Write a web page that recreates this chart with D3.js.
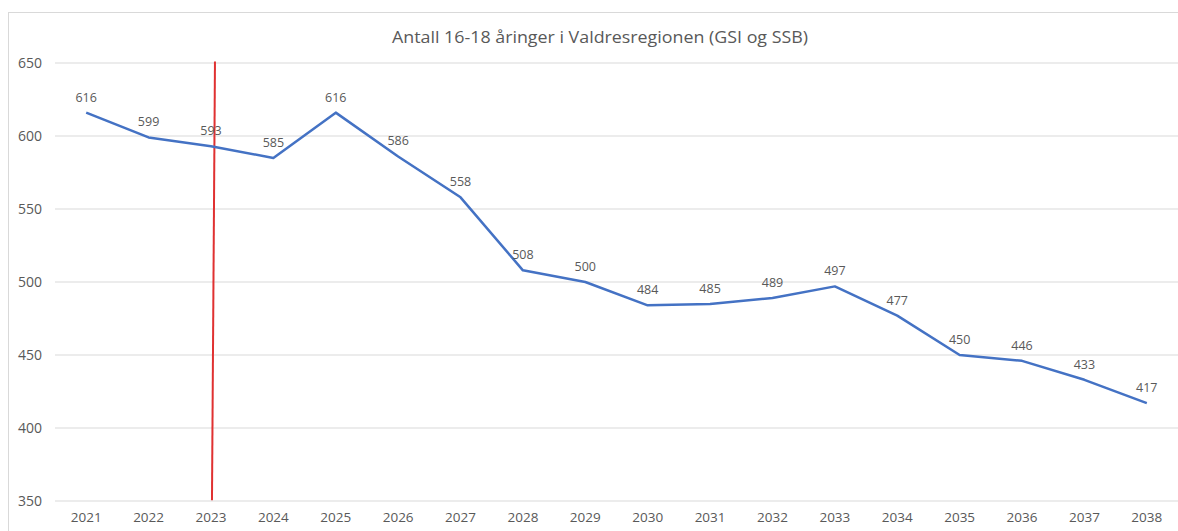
<!DOCTYPE html>
<html>
<head>
<meta charset="utf-8">
<script src="https://cdn.jsdelivr.net/npm/d3@7"></script>
<style>
  body { margin: 0; background: #fff; }
  text { font-family: "Open Sans", "Liberation Sans", sans-serif; fill: #595959; }
</style>
</head>
<body>
<svg id="chart" width="1178" height="531"></svg>
<script>
const years = ['2021','2022','2023','2024','2025','2026','2027','2028','2029','2030','2031','2032','2033','2034','2035','2036','2037','2038']
const counts = [616,599,593,585,616,586,558,508,500,484,485,489,497,477,450,446,433,417]
const yTicks = [350,400,450,500,550,600,650]
const markerYear = '2023'
const titleText = 'Antall 16-18 åringer i Valdresregionen (GSI og SSB)'

const svg = d3.select('#chart')
const W = 1178, H = 531
const margin = {left: 55, right: 0, top: 63, bottom: 30}

// frame
svg.append('rect').attr('x', 8.5).attr('y', 12.5).attr('width', W).attr('height', H)
  .attr('fill', 'none').attr('stroke', '#d9d9d9')

const x = d3.scaleBand().domain(years).range([margin.left, W - margin.right])
const y = d3.scaleLinear().domain([350, 650]).range([H - margin.bottom, margin.top])

// gridlines
svg.append('g').selectAll('line').data(yTicks).enter().append('line')
  .attr('x1', margin.left).attr('x2', W)
  .attr('y1', d => y(d)).attr('y2', d => y(d))
  .attr('stroke', '#e6e6e6').attr('stroke-width', 1.3)

// y axis labels
const yAxis = svg.append('g').attr('transform', `translate(${margin.left - 13},0)`)
  .call(d3.axisLeft(y).tickValues(yTicks).tickSize(0).tickPadding(0))
yAxis.select('.domain').remove()
yAxis.selectAll('text').style('font-size', '14px').style('fill', '#595959')
  .style('font-family', '"Open Sans", sans-serif')

// x axis labels
const xAxis = svg.append('g').attr('transform', `translate(0,${H - 19})`)
  .call(d3.axisBottom(x).tickSize(0).tickPadding(0))
xAxis.select('.domain').remove()
xAxis.selectAll('text').style('font-size', '13.5px').style('fill', '#595959')
  .style('font-family', '"Open Sans", sans-serif')

const cx = d => x(d) + x.bandwidth() / 2

// red marker line
svg.append('line')
  .attr('x1', cx(markerYear) + 4).attr('y1', y(651))
  .attr('x2', cx(markerYear) + 1).attr('y2', y(350.5))
  .attr('stroke', '#e03131').attr('stroke-width', 2)

// series line
const pts = years.map((yr, i) => [cx(yr), y(counts[i])])
svg.append('path').datum(pts)
  .attr('d', d3.line())
  .attr('fill', 'none').attr('stroke', '#4472c4').attr('stroke-width', 2.5)
  .attr('stroke-linejoin', 'round')

// data labels
svg.append('g').selectAll('text').data(years).enter().append('text')
  .attr('x', d => cx(d)).attr('y', (d, i) => y(counts[i]) - 11)
  .attr('text-anchor', 'middle').style('font-size', '12.5px')
  .text((d, i) => counts[i])

// title
const title = svg.append('text').attr('x', 600).attr('y', 43)
  .attr('text-anchor', 'middle').style('font-size', '16px').text(titleText)
title.attr('textLength', 416).attr('lengthAdjust', 'spacingAndGlyphs')
</script>
</body>
</html>
